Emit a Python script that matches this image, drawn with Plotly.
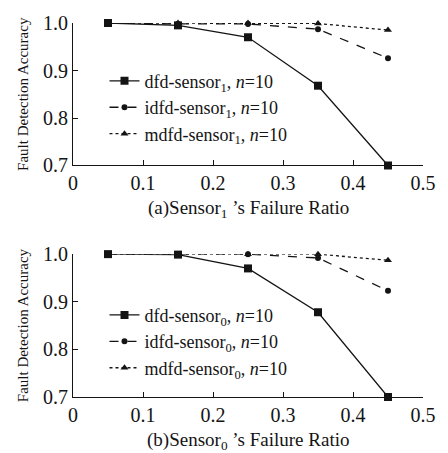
import plotly.graph_objects as go

ratios = [0.05, 0.15, 0.25, 0.35, 0.45]

dfd_s1 = [1.0, 0.995, 0.970, 0.868, 0.700]
idfd_s1 = [1.0, 0.998, 0.998, 0.987, 0.926]
mdfd_s1 = [1.0, 1.0, 1.0, 0.999, 0.985]

dfd_s0 = [1.0, 0.999, 0.970, 0.878, 0.700]
idfd_s0 = [1.0, 1.0, 1.0, 0.992, 0.923]
mdfd_s0 = [1.0, 1.0, 1.0, 1.0, 0.987]

x_tickvals = [0, 0.1, 0.2, 0.3, 0.4, 0.5]
x_ticktext = ["0", "0.1", "0.2", "0.3", "0.4", "0.5"]
y_tickvals = [0.7, 0.8, 0.9, 1.0]
y_ticktext = ["0.7", "0.8", "0.9", "1.0"]

FONT = "Liberation Serif"
INK = "#141414"

fig = go.Figure()

def add_set(vals, sub, xa, ya, leg):
    styles = [("dfd", vals[0], "solid", "square", 8),
              ("idfd", vals[1], "dash", "circle", 6),
              ("mdfd", vals[2], "dot", "triangle-up", 7)]
    for name, v, dash, sym, ms in styles:
        fig.add_trace(go.Scatter(
            x=ratios, y=v, mode="lines+markers",
            name=f"{name}-sensor<sub>{sub}</sub>, <i>n</i>=10",
            line=dict(color=INK, width=1.3, dash=dash),
            marker=dict(symbol=sym, size=ms, color=INK),
            xaxis=xa, yaxis=ya, legend=leg, cliponaxis=False))

add_set([dfd_s1, idfd_s1, mdfd_s1], "1", "x", "y", "legend")
add_set([dfd_s0, idfd_s0, mdfd_s0], "0", "x2", "y2", "legend2")

axis_common = dict(showline=True, linecolor=INK, linewidth=1, showgrid=False,
                   zeroline=False, ticks="inside", ticklen=5, tickcolor=INK,
                   tickfont=dict(family=FONT, size=20, color=INK))

ytitle = dict(text="Fault Detection Accuracy", font=dict(family=FONT, size=15, color=INK),
              standoff=10)

fig.update_layout(
    width=448, height=453,
    margin=dict(l=73, r=16, t=19, b=56),
    paper_bgcolor="white", plot_bgcolor="white",
    font=dict(family=FONT, color=INK),
    xaxis=dict(domain=[0, 1], range=[0, 0.5], tickvals=x_tickvals, ticktext=x_ticktext,
               anchor="y", **axis_common),
    yaxis=dict(domain=[0.619, 1], range=[0.7, 1.0], tickvals=y_tickvals, ticktext=y_ticktext,
               anchor="x", title=ytitle, **axis_common),
    xaxis2=dict(domain=[0, 1], range=[0, 0.5], tickvals=x_tickvals, ticktext=x_ticktext,
                anchor="y2", **axis_common),
    yaxis2=dict(domain=[0, 0.382], range=[0.7, 1.0], tickvals=y_tickvals, ticktext=y_ticktext,
                anchor="x2", title=ytitle, **axis_common),
    legend=dict(x=0.09, y=0.894, xanchor="left", yanchor="top",
                font=dict(family=FONT, size=18, color=INK), bgcolor="rgba(0,0,0,0)",
                tracegroupgap=0),
    legend2=dict(x=0.09, y=0.268, xanchor="left", yanchor="top",
                 font=dict(family=FONT, size=18, color=INK), bgcolor="rgba(0,0,0,0)",
                 tracegroupgap=0),
    showlegend=True,
)

fig.add_annotation(text="(a)Sensor<sub>1</sub> ’s Failure Ratio", xref="paper", yref="paper",
                   x=0.5, y=0.619, yshift=-44, xanchor="center", yanchor="middle",
                   showarrow=False, font=dict(family=FONT, size=19, color=INK))
fig.add_annotation(text="(b)Sensor<sub>0</sub> ’s Failure Ratio", xref="paper", yref="paper",
                   x=0.5, y=0.0, yshift=-44, xanchor="center", yanchor="middle",
                   showarrow=False, font=dict(family=FONT, size=19, color=INK))

fig.write_html("out.html")
